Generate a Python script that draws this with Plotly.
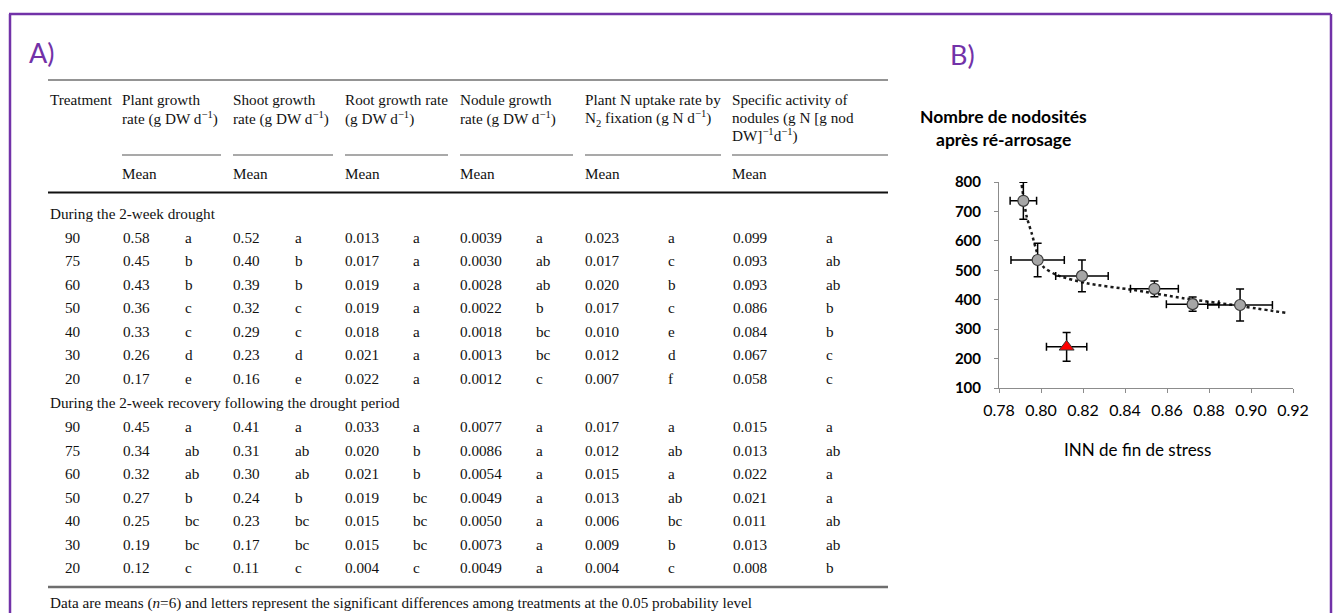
import plotly.graph_objects as go

W, H = 1338, 613

# ---------------- Table (panel A) data ----------------
treatments = [90, 75, 60, 50, 40, 30, 20]

drought_plant = [0.58, 0.45, 0.43, 0.36, 0.33, 0.26, 0.17]
drought_plant_sig = ["a", "b", "b", "c", "c", "d", "e"]
drought_shoot = [0.52, 0.40, 0.39, 0.32, 0.29, 0.23, 0.16]
drought_shoot_sig = ["a", "b", "b", "c", "c", "d", "e"]
drought_root = [0.013, 0.017, 0.019, 0.019, 0.018, 0.021, 0.022]
drought_root_sig = ["a", "a", "a", "a", "a", "a", "a"]
drought_nodule = [0.0039, 0.0030, 0.0028, 0.0022, 0.0018, 0.0013, 0.0012]
drought_nodule_sig = ["a", "ab", "ab", "b", "bc", "bc", "c"]
drought_fix = [0.023, 0.017, 0.020, 0.017, 0.010, 0.012, 0.007]
drought_fix_sig = ["a", "c", "b", "c", "e", "d", "f"]
drought_spec = [0.099, 0.093, 0.093, 0.086, 0.084, 0.067, 0.058]
drought_spec_sig = ["a", "ab", "ab", "b", "b", "c", "c"]

recovery_plant = [0.45, 0.34, 0.32, 0.27, 0.25, 0.19, 0.12]
recovery_plant_sig = ["a", "ab", "ab", "b", "bc", "bc", "c"]
recovery_shoot = [0.41, 0.31, 0.30, 0.24, 0.23, 0.17, 0.11]
recovery_shoot_sig = ["a", "ab", "ab", "b", "bc", "bc", "c"]
recovery_root = [0.033, 0.020, 0.021, 0.019, 0.015, 0.015, 0.004]
recovery_root_sig = ["a", "b", "b", "bc", "bc", "bc", "c"]
recovery_nodule = [0.0077, 0.0086, 0.0054, 0.0049, 0.0050, 0.0073, 0.0049]
recovery_nodule_sig = ["a", "a", "a", "a", "a", "a", "a"]
recovery_fix = [0.017, 0.012, 0.015, 0.013, 0.006, 0.009, 0.004]
recovery_fix_sig = ["a", "ab", "a", "ab", "bc", "b", "c"]
recovery_spec = [0.015, 0.013, 0.022, 0.021, 0.011, 0.013, 0.008]
recovery_spec_sig = ["a", "ab", "a", "a", "ab", "ab", "b"]

column_headers = [
    ["Plant growth", "rate (g DW d<sup>−1</sup>)"],
    ["Shoot growth", "rate (g DW d<sup>−1</sup>)"],
    ["Root growth rate", "(g DW d<sup>−1</sup>)"],
    ["Nodule growth", "rate (g DW d<sup>−1</sup>)"],
    ["Plant N uptake rate by", "N<sub>2</sub> fixation (g N d<sup>−1</sup>)"],
    ["Specific activity of", "nodules (g N [g nod", "DW]<sup>−1</sup>d<sup>−1</sup>)"],
]
column_decimals = [2, 2, 3, 4, 3, 3]
period_titles = ["During the 2-week drought",
                 "During the 2-week recovery following the drought period"]
footnote = ("Data are means (<i>n</i>=6) and letters represent the significant "
            "differences among treatments at the 0.05 probability level")

# ---------------- Scatter (panel B) data ----------------
inn_mean = [0.7916, 0.7984, 0.8195, 0.8540, 0.8722, 0.8948]
inn_err = [0.0063, 0.0127, 0.0125, 0.0114, 0.0125, 0.0154]
nodules_mean = [736, 535, 481, 437, 385, 382]
nodules_err = [63, 57, 54, 27, 24, 54]

outlier_inn = [0.8122]
outlier_inn_err = [0.0096]
outlier_nodules = [240]
outlier_nodules_err = [49]

trend_inn = [0.7908, 0.7932, 0.7956, 0.7980, 0.8011, 0.8075, 0.8218,
             0.8440, 0.8678, 0.8916, 0.9177]
trend_nodules = [790, 682, 625, 563, 512, 484, 456, 433, 405, 382, 354]

# ---------------- styling ----------------
SERIF = "Liberation Serif, Times New Roman, serif"
SANS = "Lato, Open Sans, sans-serif"
PURPLE = "#7232a8"
TXT = "#111111"
TS = 15.2  # table font size


def px(x):
    return x / W


def py(y):
    return 1 - y / H


def ann(text, x, y, size=TS, family=SERIF, xanchor="left", color=TXT, weight="normal"):
    return dict(text=text, x=px(x), y=py(y), xref="paper", yref="paper",
                xanchor=xanchor, yanchor="middle", showarrow=False,
                borderpad=0, borderwidth=0,
                font=dict(family=family, size=size, color=color, weight=weight))


def hline(x0, x1, y, color, width):
    return dict(type="line", xref="paper", yref="paper",
                x0=px(x0), x1=px(x1), y0=py(y), y1=py(y),
                line=dict(color=color, width=width))


annotations = []
shapes = []

# outer frame
shapes.append(hline(9, 1331, 14, PURPLE, 2.5))
shapes.append(dict(type="line", xref="paper", yref="paper", x0=px(10), x1=px(10),
                   y0=py(14), y1=py(613), line=dict(color=PURPLE, width=2.5)))
shapes.append(dict(type="line", xref="paper", yref="paper", x0=px(1331), x1=px(1331),
                   y0=py(14), y1=py(613), line=dict(color=PURPLE, width=2.5)))

# panel labels
annotations.append(ann("A)", 29, 52, size=27, family=SANS, color=PURPLE))
annotations.append(ann("B)", 950, 55, size=27, family=SANS, color=PURPLE))

# table rules
shapes.append(hline(48, 888, 80, "#2a2a2a", 1.2))
header_x = [122, 233, 345, 460, 585, 732]
header_rule_end = [221, 333, 448, 573, 721, 888]
for x0, x1 in zip(header_x, header_rule_end):
    shapes.append(hline(x0, x1, 155, "#555555", 1.2))
shapes.append(hline(48, 888, 192.5, "#111111", 2))
shapes.append(hline(48, 888, 587, "#6e6e6e", 2.5))

# table header
annotations.append(ann("Treatment", 50, 100))
header_line_y = [100, 118, 135]
for x, lines in zip(header_x, column_headers):
    for ly, line in zip(header_line_y, lines):
        annotations.append(ann(line, x, ly))
    annotations.append(ann("Mean", x, 173))

# table body
mean_x = [123, 233, 345, 460, 585, 733]
sig_x = [185, 295, 413, 536, 668, 826]
periods = [
    (213, 237.3, [drought_plant, drought_shoot, drought_root,
                  drought_nodule, drought_fix, drought_spec],
     [drought_plant_sig, drought_shoot_sig, drought_root_sig,
      drought_nodule_sig, drought_fix_sig, drought_spec_sig]),
    (402, 426.5, [recovery_plant, recovery_shoot, recovery_root,
                  recovery_nodule, recovery_fix, recovery_spec],
     [recovery_plant_sig, recovery_shoot_sig, recovery_root_sig,
      recovery_nodule_sig, recovery_fix_sig, recovery_spec_sig]),
]
ROW = 23.5
for title, (title_y, first_y, means, sigs) in zip(period_titles, periods):
    annotations.append(ann(title, 50, title_y))
    for i, t in enumerate(treatments):
        ry = first_y + i * ROW
        annotations.append(ann(str(t), 65, ry))
        for c in range(6):
            annotations.append(ann(f"{means[c][i]:.{column_decimals[c]}f}", mean_x[c], ry))
            annotations.append(ann(sigs[c][i], sig_x[c], ry))

annotations.append(ann(footnote, 50, 603))

# scatter titles
annotations.append(ann("Nombre de nodosités", 1003, 116, size=17.5, family=SANS,
                       xanchor="center", color="#000000", weight="bold"))
annotations.append(ann("après ré-arrosage", 1003, 140, size=17.5, family=SANS,
                       xanchor="center", color="#000000", weight="bold"))
annotations.append(ann("INN de fin de stress", 1137, 449, size=17, family=SANS,
                       xanchor="center", color="#000000"))

fig = go.Figure()

fig.add_trace(go.Scatter(
    x=trend_inn, y=trend_nodules, mode="lines",
    line=dict(color="#1a1a1a", width=2.5, dash="dot", shape="spline", smoothing=0.7),
    hoverinfo="skip", showlegend=False))

fig.add_trace(go.Scatter(
    x=inn_mean, y=nodules_mean, mode="markers",
    marker=dict(symbol="circle", size=11, color="#a6a6a6",
                line=dict(color="#3a3a3a", width=1.2)),
    error_x=dict(type="data", array=inn_err, color="#000000", thickness=1.5, width=4),
    error_y=dict(type="data", array=nodules_err, color="#000000", thickness=1.5, width=4),
    showlegend=False))

fig.add_trace(go.Scatter(
    x=outlier_inn, y=outlier_nodules, mode="markers",
    marker=dict(symbol="triangle-up", size=13, color="#ff0000",
                line=dict(color="#3a3a3a", width=1)),
    error_x=dict(type="data", array=outlier_inn_err, color="#000000", thickness=1.5, width=4),
    error_y=dict(type="data", array=outlier_nodules_err, color="#000000", thickness=1.5, width=4),
    showlegend=False))

fig.update_layout(
    width=W, height=H,
    margin=dict(l=0, r=0, t=0, b=0, pad=0, autoexpand=False),
    paper_bgcolor="white", plot_bgcolor="white",
    showlegend=False,
    annotations=annotations,
    shapes=shapes,
    xaxis=dict(
        domain=[px(999), px(1293)], range=[0.78, 0.92],
        tickvals=[0.78, 0.80, 0.82, 0.84, 0.86, 0.88, 0.90, 0.92],
        ticktext=["0.78", "0.80", "0.82", "0.84", "0.86", "0.88", "0.90", "0.92"],
        showline=True, linecolor="#8c8c8c", linewidth=1,
        ticks="outside", ticklen=4, tickcolor="#8c8c8c",
        showgrid=False, zeroline=False,
        tickfont=dict(family=SANS, size=16, color="#000000"),
        ticklabelstandoff=4,
        automargin=False,
        anchor="y",
    ),
    yaxis=dict(
        domain=[py(388), py(182)], range=[100, 800],
        tickvals=[100, 200, 300, 400, 500, 600, 700, 800],
        showline=True, linecolor="#8c8c8c", linewidth=1,
        ticks="outside", ticklen=4, tickcolor="#8c8c8c",
        showgrid=False, zeroline=False,
        tickfont=dict(family=SANS, size=15, color="#000000", weight="bold"),
        ticklabelstandoff=10,
        automargin=False,
        anchor="x",
    ),
)

fig.write_html("out.html")
